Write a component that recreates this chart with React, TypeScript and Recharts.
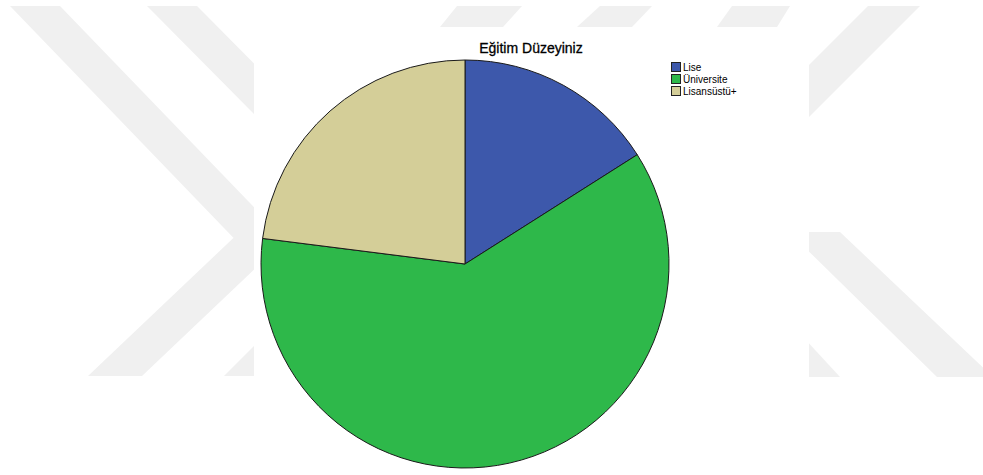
import { PieChart, Pie, Cell, Legend } from "recharts";

const CATEGORIES = ["Lise", "Üniversite", "Lisansüstü+"];
const PERCENTS = [16.0, 61.0, 23.0];
const COLORS = ["#3d58ab", "#2eb84a", "#d4ce98"];
const TITLE = "Eğitim Düzeyiniz";

const data = CATEGORIES.map((name, i) => ({ name, value: PERCENTS[i] }));

// faint thesis watermark behind the chart
const WATERMARK = [
  "10,6 60,6 300,255 250,255",
  "88,376 142,376 300,226 246,226",
  "147,6 197,6 320,130 270,130",
  "224,376 300,376 300,300",
  "457,6 522,6 503,27 440,27",
  "600,6 652,6 632,27 577,27",
  "732,6 790,6 777,27 717,27",
  "868,6 920,6 780,146 728,146",
  "789,232 840,232 993,377 937,377",
  "780,312 840,377 780,377",
];

const FONT = "'Liberation Sans', Arial, sans-serif";

function renderLegend() {
  return (
    <div style={{ fontFamily: FONT, fontSize: 10, color: "#000" }}>
      {CATEGORIES.map((name, i) => (
        <div
          key={name}
          style={{ display: "flex", alignItems: "center", height: 12 }}
        >
          <span
            style={{
              display: "inline-block",
              width: 8,
              height: 8,
              background: COLORS[i],
              border: "1px solid #222",
              marginRight: 2,
            }}
          />
          <span>{name}</span>
        </div>
      ))}
    </div>
  );
}

export default function App() {
  return (
    <div
      style={{
        position: "absolute",
        left: 0,
        top: 0,
        width: 983,
        height: 475,
        background: "#fff",
      }}
    >
      <svg
        width={983}
        height={475}
        style={{ position: "absolute", left: 0, top: 0 }}
      >
        {WATERMARK.map((pts, i) => (
          <polygon key={i} points={pts} fill="#f0f0f0" />
        ))}
        <rect x={254} y={27} width={555} height={448} fill="#fff" />
      </svg>
      <div style={{ position: "absolute", left: 0, top: 0 }}>
        <PieChart
          width={983}
          height={475}
          margin={{ top: 0, right: 0, bottom: 0, left: 0 }}
        >
          <text
            x={531}
            y={53}
            textAnchor="middle"
            fontFamily={FONT}
            fontSize={14}
            fill="#000"
            stroke="#000"
            strokeWidth={0.3}
          >
            {TITLE}
          </text>
          <Pie
            data={data}
            dataKey="value"
            nameKey="name"
            cx={465}
            cy={264}
            outerRadius={204}
            startAngle={90}
            endAngle={-270}
            stroke="#1a1a1a"
            strokeWidth={1}
            isAnimationActive={false}
          >
            {data.map((d, i) => (
              <Cell key={d.name} fill={COLORS[i]} />
            ))}
          </Pie>
          <Legend
            layout="vertical"
            verticalAlign="top"
            align="right"
            content={renderLegend}
            wrapperStyle={{ position: "absolute", left: 671, top: 61, width: 100 }}
          />
        </PieChart>
      </div>
    </div>
  );
}
